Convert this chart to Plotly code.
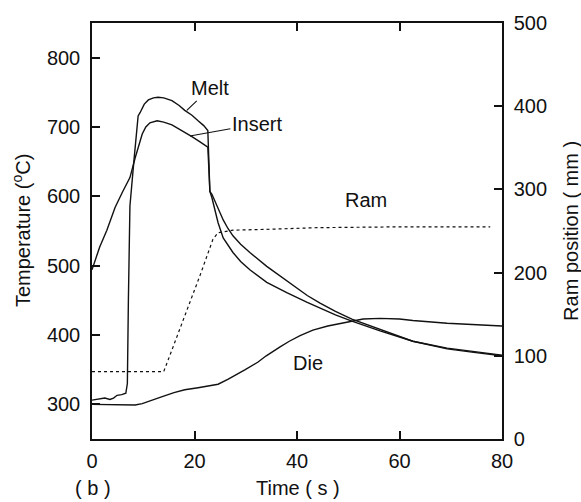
import plotly.graph_objects as go

# ---- data ----
melt_t = [0, 1.5, 2.5, 3.5, 4.2, 4.9, 5.8, 6.6, 6.9, 7.1, 7.4, 8.2, 9.0, 9.4, 10.2, 11.0, 12.0, 12.9,
          14.0, 15.6, 17.0, 18.1, 19.5, 20.7, 21.8, 22.6, 22.8, 23.0, 23.4, 24.0, 24.6, 25.6, 27.5,
          29.0, 30.8, 34.1, 38.0, 42.0, 44.5, 47.5, 50.7, 56.2, 62.6, 69.3, 74.5, 80]
melt_v = [306, 308, 309, 307, 309, 313, 314, 316, 330, 450, 586, 653, 716, 721, 733, 739, 742, 743,
          742, 738, 731, 724, 717, 709, 702, 695, 650, 607, 598, 580, 562, 540, 519,
          506, 494, 476, 461, 447, 439, 429, 420, 406, 391, 380, 375, 370]

insert_t = [0, 0.3, 1.5, 2.9, 4.5, 6.0, 7.0, 7.4, 8.4, 9.4, 9.8, 10.5, 11.3, 12.7, 14.0, 15.6, 17.5,
            19.5, 21.0, 22.0, 22.6, 22.8, 23.0, 23.4, 24.0, 24.8, 25.6, 26.5, 27.5, 29.0, 30.8,
            34.1, 38.0, 42.0, 44.5, 47.5, 50.7, 56.2, 62.6, 69.3, 74.5, 80]
insert_v = [494, 500, 527, 551, 584, 607, 620, 627, 655, 680, 690, 700, 706, 709, 707, 703, 695,
            686, 679, 674, 671, 640, 607, 603, 593, 580, 566, 554, 543, 531, 519,
            499, 478, 457, 446, 434, 423, 408, 391, 381, 376, 371]

die_t = [0, 4, 8.4, 9.8, 11.5, 13.7, 16, 18.1, 20.7, 22.5, 24.6, 26.5, 28, 29.9, 32.4, 34, 36.7,
         38.5, 40.6, 43.1, 46, 49.8, 52.9, 56.2, 60, 62.6, 69.3, 80]
die_v = [300, 300, 299, 301, 305, 311, 317, 321, 324, 326, 329, 336, 342, 350, 361, 370, 383,
         391, 399, 407, 413, 419, 423, 424, 423, 421, 417, 413]

ram_t = [0, 14.0, 21.1, 23.6, 24.6, 27.5, 34, 43.9, 60, 77.7]
ram_v = [81, 81, 197, 240, 248, 251, 252, 254, 255, 255]

x_ticks = [0, 20, 40, 60, 80]
temp_ticks = [300, 400, 500, 600, 700, 800]
ram_ticks = [0, 100, 200, 300, 400, 500]

FONT = "Liberation Sans, Arial, Helvetica, sans-serif"
INK = "#111111"
FS = 20

fig = go.Figure()
line_style = dict(color=INK, width=1.4)
fig.add_trace(go.Scatter(x=melt_t, y=melt_v, mode="lines", line=line_style, name="Melt"))
fig.add_trace(go.Scatter(x=insert_t, y=insert_v, mode="lines", line=line_style, name="Insert"))
fig.add_trace(go.Scatter(x=die_t, y=die_v, mode="lines", line=line_style, name="Die"))
fig.add_trace(go.Scatter(x=ram_t, y=ram_v, mode="lines", yaxis="y2",
                         line=dict(color=INK, width=1.2, dash="dot"), name="Ram"))

axis_common = dict(showline=True, linecolor=INK, linewidth=1.5, ticks="inside", ticklen=8,
                   tickwidth=1.5, tickcolor=INK, showgrid=False, zeroline=False,
                   tickfont=dict(family=FONT, size=FS, color=INK))

fig.update_layout(
    width=581, height=502,
    margin=dict(l=92, r=79, t=17, b=63),
    paper_bgcolor="white", plot_bgcolor="white",
    showlegend=False,
    font=dict(family=FONT, size=FS, color=INK),
    xaxis=dict(range=[0, 80], tickvals=x_ticks, mirror="ticks", ticklabelstandoff=3, **axis_common),
    yaxis=dict(range=[250, 850], tickvals=temp_ticks, ticklabelstandoff=6, **axis_common),
    yaxis2=dict(range=[0, 500], tickvals=ram_ticks, overlaying="y", side="right",
                ticklabelstandoff=6, **axis_common),
)

txt = dict(family=FONT, size=FS, color=INK)

# curve labels with leader lines
labels = [
    dict(text="Melt", x=18.5, y=724, ax=23, ay=-22),
    dict(text="Insert", x=19.1, y=687, ax=67, ay=-12),
]
for lb in labels:
    fig.add_annotation(x=lb["x"], y=lb["y"], xref="x", yref="y", text=lb["text"],
                       showarrow=True, arrowhead=0, arrowwidth=1.1, arrowcolor=INK,
                       ax=lb["ax"], ay=lb["ay"], font=txt)

fig.add_annotation(x=53.5, y=594, xref="x", yref="y", text="Ram", showarrow=False, font=txt,
                   xanchor="center", yanchor="middle")
fig.add_annotation(x=42.1, y=360, xref="x", yref="y", text="Die", showarrow=False, font=txt,
                   xanchor="center", yanchor="middle")

# axis titles and panel tag
common_anchor = dict(xref="paper", yref="paper", showarrow=False, font=txt,
                     xanchor="center", yanchor="middle")
fig.add_annotation(x=0.502, y=-0.118, text="Time ( s )", **common_anchor)
fig.add_annotation(x=0.002, y=-0.118, text="( b )", **common_anchor)
fig.add_annotation(x=-0.173, y=0.5, text="Temperature (<sup>o</sup>C)", textangle=-90,
                   **common_anchor)
fig.add_annotation(x=1.168, y=0.5, text="Ram position ( mm )", textangle=-90, **common_anchor)

fig.write_html("out.html", config={"displayModeBar": False},
               post_script="document.body.style.margin='0';document.body.style.overflow='hidden';")
